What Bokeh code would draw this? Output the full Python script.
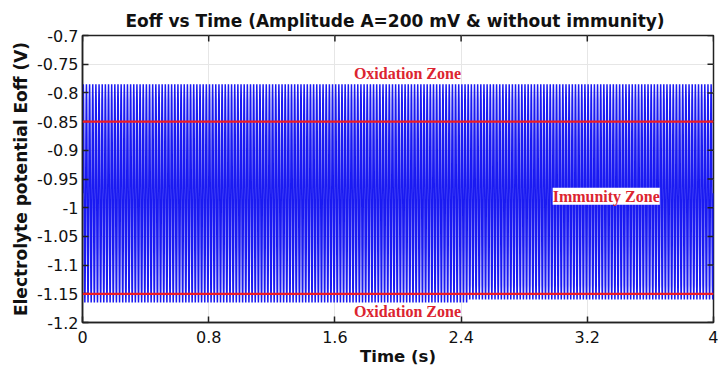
import numpy as np
from bokeh.plotting import figure
from bokeh.models import Span, Label, FixedTicker, Range1d
from bokeh.embed import file_html
from bokeh.resources import INLINE

# ---- data ----
period_s = 0.02          # one oscillation cycle (about 200 cycles over 4 s)
n_cycles = 200
switch_cycle = 122       # after ~2.45 s the troughs sit slightly higher
cycle_early = [-0.975, -0.880, -0.811, -0.785, -0.811, -0.880,
               -0.975, -1.070, -1.140, -1.165, -1.140, -1.070]
cycle_late = [-0.975, -0.880, -0.811, -0.785, -0.811, -0.880,
              -0.975, -1.068, -1.136, -1.160, -1.136, -1.068]
zone_limits = [-0.85, -1.15]
zone_labels = ["Oxidation Zone", "Immunity Zone", "Oxidation Zone"]
x_ticks = [0, 0.8, 1.6, 2.4, 3.2, 4]
x_tick_labels = ["0", "0.8", "1.6", "2.4", "3.2", "4"]
y_ticks = [-1.2, -1.15, -1.1, -1.05, -1.0, -0.95, -0.9, -0.85, -0.8, -0.75, -0.7]
y_tick_labels = ["-1.2", "-1.15", "-1.1", "-1.05", "-1", "-0.95", "-0.9",
                 "-0.85", "-0.8", "-0.75", "-0.7"]
x_min, x_max = 0, 4
y_min, y_max = -1.2, -0.7

samples = len(cycle_early)
eoff = np.concatenate([np.tile(cycle_early, switch_cycle),
                       np.tile(cycle_late, n_cycles - switch_cycle),
                       [cycle_late[0]]])
time = np.arange(len(eoff)) * (period_s / samples)

FONT = "DejaVu Sans"
SERIF = "Liberation Serif"
AXC = "#222222"

p = figure(width=718, height=371, output_backend="svg", toolbar_location=None,
           x_range=Range1d(x_min, x_max), y_range=Range1d(y_min, y_max),
           min_border_left=82, min_border_right=5, min_border_top=35,
           min_border_bottom=49, background_fill_color="white",
           border_fill_color="white", outline_line_color=AXC,
           outline_line_width=1.5)

p.title.text = "Eoff vs Time (Amplitude A=200 mV &  without immunity)"
p.title.align = "center"
p.title.text_font = FONT
p.title.text_font_style = "bold"
p.title.text_font_size = "17px"
p.title.text_color = "#111111"
p.title.standoff = 9

p.grid.grid_line_color = "#e6e6e6"
p.grid.grid_line_width = 1
p.xgrid.ticker = FixedTicker(ticks=x_ticks)
p.ygrid.ticker = FixedTicker(ticks=y_ticks)

p.line(time, eoff, line_color="#1a1af2", line_width=1.5)

for v in zone_limits:
    p.add_layout(Span(location=v, dimension="width", line_color="#ee1c25",
                      line_width=2.2))

# inward tick marks on the top and right frame edges (clipped dashes)
p.scatter(x=x_ticks, y=[y_max] * len(x_ticks), marker="dash", size=12,
          angle=np.pi / 2, line_color=AXC, line_width=1.5)
p.scatter(x=[x_max] * len(y_ticks), y=y_ticks, marker="dash", size=12,
          line_color=AXC, line_width=1.5)

lab_style = dict(text_font=SERIF, text_font_style="bold", text_font_size="16px",
                 text_color="#dc2430", text_align="center", text_baseline="middle")
p.add_layout(Label(x=2.06, y=-0.767, text=zone_labels[0], **lab_style))
p.add_layout(Label(x=3.32, y=-0.980, text=zone_labels[1],
                   background_fill_color="white", **lab_style))
p.add_layout(Label(x=2.06, y=-1.180, text=zone_labels[2], **lab_style))

def style_axis(ax):
    ax.major_tick_in = 6
    ax.major_tick_out = 0
    ax.minor_tick_line_color = None
    ax.axis_line_color = AXC
    ax.axis_line_width = 1.5
    ax.major_tick_line_color = AXC
    ax.major_tick_line_width = 1.5
    ax.major_label_text_font = FONT
    ax.major_label_text_font_size = "16px"
    ax.major_label_text_color = "#111111"
    ax.axis_label_text_font = FONT
    ax.axis_label_text_font_style = "bold"
    ax.axis_label_text_color = "#111111"

xa = p.xaxis[0]
xa.ticker = FixedTicker(ticks=x_ticks)
xa.major_label_overrides = dict(zip(x_ticks, x_tick_labels))
xa.axis_label = "Time (s)"
style_axis(xa)
xa.axis_label_text_font_size = "16.5px"
xa.major_label_standoff = 8
xa.axis_label_standoff = 1

ya = p.yaxis[0]
ya.ticker = FixedTicker(ticks=y_ticks)
ya.major_label_overrides = dict(zip(y_ticks, y_tick_labels))
ya.axis_label = "Electrolyte potential Eoff (V)"
style_axis(ya)
ya.axis_label_text_font_size = "17px"
ya.major_label_standoff = 4
ya.axis_label_standoff = 3

open("out.html", "w").write(file_html(p, INLINE))
